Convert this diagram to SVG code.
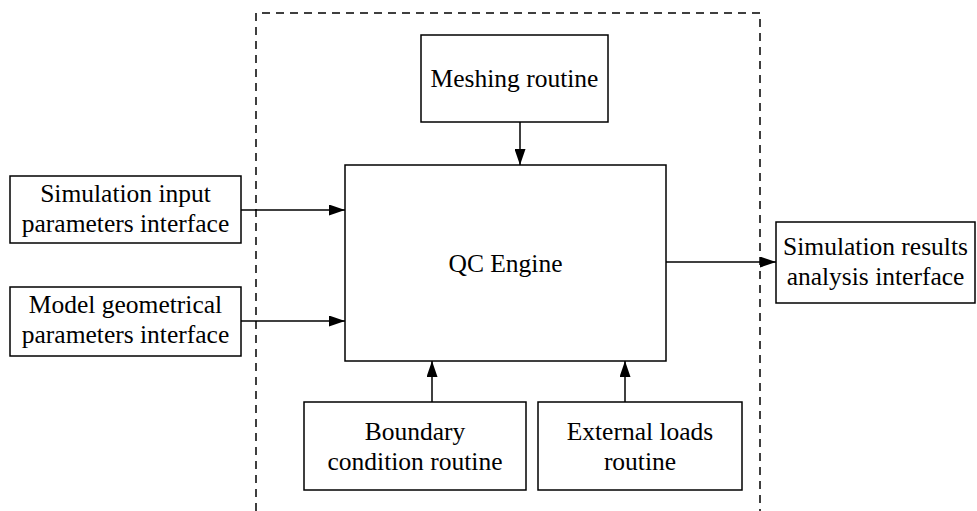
<svg xmlns="http://www.w3.org/2000/svg" width="977" height="511" viewBox="0 0 977 511">
  <style>
    .box { fill: #fff; stroke: #000; stroke-width: 1.5; }
    .lbl { font-family: "Liberation Serif", "Times New Roman", serif; font-size: 25.5px; fill: #000; text-anchor: middle; }
    .wire { stroke: #000; stroke-width: 1.5; fill: none; marker-end: url(#head); }
    .frame { stroke: #000; stroke-width: 1.5; fill: none; stroke-dasharray: 8 6; }
  </style>
  <defs>
    <marker id="head" viewBox="0 0 16 11" refX="16" refY="5.5" markerWidth="16" markerHeight="11" markerUnits="userSpaceOnUse" orient="auto">
      <path d="M0,0 L16,5.5 L0,11 z" fill="#000"/>
    </marker>
  </defs>
  <rect width="977" height="511" fill="#fff"/>

  <!-- dashed system boundary, open at the bottom -->
  <path class="frame" d="M256,511 V13 H760 V511"/>

  <!-- connectors -->
  <g id="connectors">
    <line class="wire" x1="520" y1="122" x2="520" y2="165"/>
    <line class="wire" x1="241" y1="210" x2="345" y2="210"/>
    <line class="wire" x1="241" y1="321" x2="345" y2="321"/>
    <line class="wire" x1="432" y1="402" x2="432" y2="361"/>
    <line class="wire" x1="625" y1="402" x2="625" y2="361"/>
    <line class="wire" x1="666" y1="262" x2="776" y2="262"/>
  </g>

  <g id="meshing">
    <rect class="box" x="421" y="35" width="187" height="87"/>
    <text class="lbl" x="514.5" y="87">Meshing routine</text>
  </g>

  <g id="qc-engine">
    <rect class="box" x="345" y="165" width="321" height="196"/>
    <text class="lbl" x="505.5" y="272">QC Engine</text>
  </g>

  <g id="sim-input">
    <rect class="box" x="10" y="176" width="231" height="67"/>
    <text class="lbl" x="125.5" y="202">Simulation input</text>
    <text class="lbl" x="125.5" y="232">parameters interface</text>
  </g>

  <g id="model-geom">
    <rect class="box" x="10" y="287" width="231" height="69"/>
    <text class="lbl" x="125.5" y="313">Model geometrical</text>
    <text class="lbl" x="125.5" y="343">parameters interface</text>
  </g>

  <g id="boundary">
    <rect class="box" x="304" y="402" width="222" height="88"/>
    <text class="lbl" x="415" y="440">Boundary</text>
    <text class="lbl" x="415" y="470">condition routine</text>
  </g>

  <g id="ext-loads">
    <rect class="box" x="538" y="402" width="204" height="88"/>
    <text class="lbl" x="640" y="440">External loads</text>
    <text class="lbl" x="640" y="470">routine</text>
  </g>

  <g id="sim-results">
    <rect class="box" x="776" y="222" width="199" height="81"/>
    <text class="lbl" x="875.5" y="255">Simulation results</text>
    <text class="lbl" x="875.5" y="285">analysis interface</text>
  </g>
</svg>
